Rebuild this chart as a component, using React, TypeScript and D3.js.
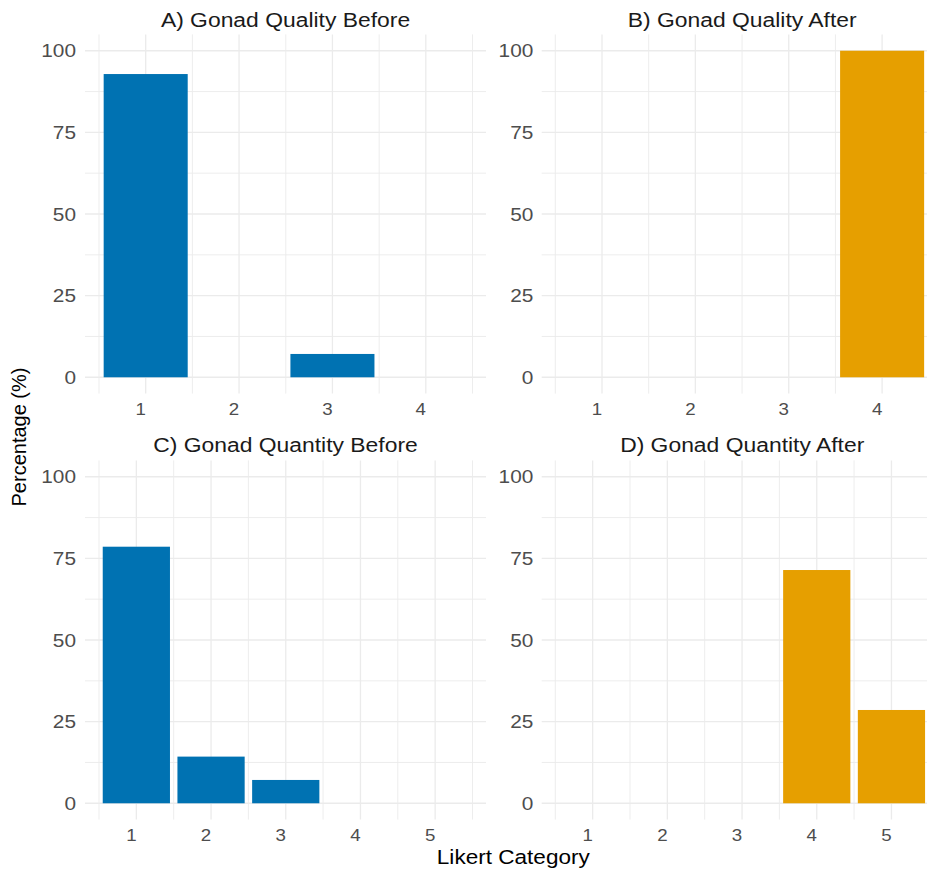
import React from "react";
import * as d3 from "d3";

const qualityCategories = ["1", "2", "3", "4"];
const quantityCategories = ["1", "2", "3", "4", "5"];
const qualityBefore = [92.86, 0, 7.14, 0];
const qualityAfter = [0, 0, 0, 100];
const quantityBefore = [78.57, 14.29, 7.14, 0, 0];
const quantityAfter = [0, 0, 0, 71.43, 28.57];
const yTicks = [0, 25, 50, 75, 100];
const yMinorTicks = [12.5, 37.5, 62.5, 87.5];
const panelTitles = [
  "A) Gonad Quality Before",
  "B) Gonad Quality After",
  "C) Gonad Quantity Before",
  "D) Gonad Quantity After",
];
const xTitle = "Likert Category";
const yTitle = "Percentage (%)";

const BLUE = "#0072B2";
const ORANGE = "#E69F00";
const GRID = "#EBEBEB";
const FONT = "'Liberation Sans', Arial, Helvetica, sans-serif";

type TProps = {
  x: number;
  y: number;
  sx?: number;
  anchor?: "start" | "middle" | "end";
  size: number;
  fill?: string;
  rotate?: number;
  children: React.ReactNode;
};

function SText({ x, y, sx = 1, anchor = "middle", size, fill = "#000", rotate = 0, children }: TProps) {
  return (
    <text
      transform={`translate(${x},${y}) rotate(${rotate}) scale(${sx},1)`}
      textAnchor={anchor}
      fontSize={size}
      fill={fill}
      fontFamily={FONT}
    >
      {children}
    </text>
  );
}

type PanelProps = {
  gx0: number;
  gx1: number;
  b0: number;
  b1: number;
  top: number;
  bottom: number;
  categories: string[];
  values: number[];
  color: string;
  title: string;
  titleY: number;
  labelRight: number;
};

function Panel({ gx0, gx1, b0, b1, top, bottom, categories, values, color, title, titleY, labelRight }: PanelProps) {
  const x = d3.scaleBand<string>().domain(categories).range([b0, b1]).paddingInner(0.1).paddingOuter(0.05);
  const y = d3.scaleLinear().domain([-5, 105]).range([bottom, top]);
  const step = x.step();
  const bw = x.bandwidth();
  const centers = categories.map((c) => (x(c) as number) + bw / 2);
  const minorX = d3.range(categories.length + 1).map((i) => b0 + i * step);
  return (
    <g>
      {yMinorTicks.map((t) => (
        <line key={"ym" + t} x1={gx0} x2={gx1} y1={y(t)} y2={y(t)} stroke={GRID} strokeWidth={0.9} />
      ))}
      {minorX.map((v, i) => (
        <line key={"xm" + i} x1={v} x2={v} y1={top} y2={bottom} stroke={GRID} strokeWidth={0.9} />
      ))}
      {yTicks.map((t) => (
        <line key={"y" + t} x1={gx0} x2={gx1} y1={y(t)} y2={y(t)} stroke={GRID} strokeWidth={1.3} />
      ))}
      {centers.map((c, i) => (
        <line key={"x" + i} x1={c} x2={c} y1={top} y2={bottom} stroke={GRID} strokeWidth={1.3} />
      ))}
      {categories.map((c, i) =>
        values[i] > 0 ? (
          <rect
            key={"b" + c}
            x={x(c) as number}
            y={y(values[i])}
            width={bw}
            height={y(0) - y(values[i])}
            fill={color}
          />
        ) : null
      )}
      {yTicks.map((t) => (
        <SText key={"yl" + t} x={labelRight} y={y(t) + 6.7} anchor="end" size={18.6} sx={1.12} fill="#4D4D4D">
          {t}
        </SText>
      ))}
      {categories.map((c, i) => (
        <SText key={"xl" + c} x={centers[i] - 5} y={bottom + 21.4} size={17} sx={1.1} fill="#4D4D4D">
          {c}
        </SText>
      ))}
      <SText x={(gx0 + gx1) / 2} y={titleY} size={21} sx={1.09} fill="#1A1A1A">
        {title}
      </SText>
    </g>
  );
}

export default function App() {
  const left = { gx0: 85, gx1: 486, b0: 99, b1: 472.5, labelRight: 76 };
  const right = { gx0: 541.7, gx1: 942.7, b0: 555.3, b1: 928.8, labelRight: 533.3 };
  const rowTop = { top: 34.4, bottom: 393.6, titleY: 26.7 };
  const rowBottom = { top: 460.4, bottom: 819.6, titleY: 451.7 };
  return (
    <svg
      width={927}
      height={869}
      style={{ position: "absolute", left: 0, top: 0, background: "#fff" }}
    >
      <rect x={0} y={0} width={927} height={869} fill="#fff" />
      <Panel {...left} {...rowTop} categories={qualityCategories} values={qualityBefore} color={BLUE} title={panelTitles[0]} />
      <Panel {...right} {...rowTop} categories={qualityCategories} values={qualityAfter} color={ORANGE} title={panelTitles[1]} />
      <Panel {...left} {...rowBottom} categories={quantityCategories} values={quantityBefore} color={BLUE} title={panelTitles[2]} />
      <Panel {...right} {...rowBottom} categories={quantityCategories} values={quantityAfter} color={ORANGE} title={panelTitles[3]} />
      <SText x={513.3} y={864} size={19.5} sx={1.157} fill="#000">
        {xTitle}
      </SText>
      <SText x={26} y={437} size={20} rotate={-90} fill="#000">
        {yTitle}
      </SText>
    </svg>
  );
}
